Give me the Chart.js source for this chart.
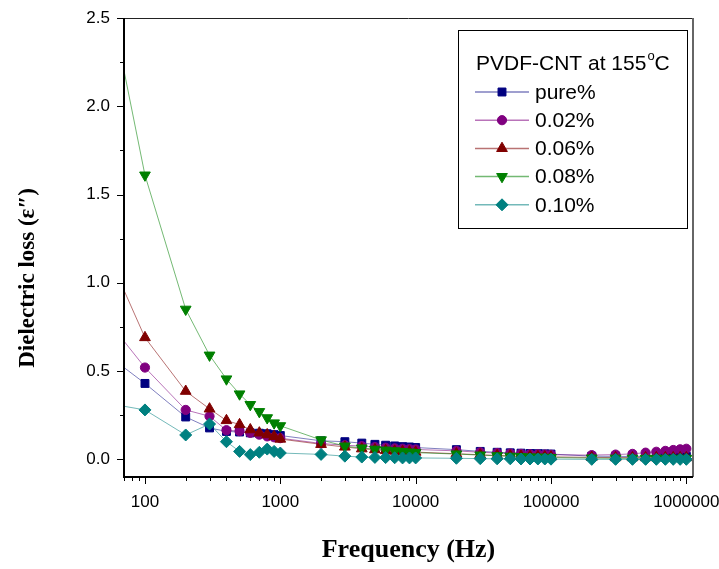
<!DOCTYPE html>
<html lang="en">
<head>
    <meta charset="UTF-8">
    <title>Dielectric loss vs frequency</title>
    <script src="https://cdn.jsdelivr.net/npm/chart.js"></script>
    <style>
        html, body { margin: 0; padding: 0; background: #fff; }
        #wrap { position: relative; width: 719px; height: 569px; }
    </style>
</head>
<body>
    <div id="wrap">
        <canvas id="lossChart"></canvas>
    </div>

    <script>
        // frequencies (Hz); the 50 Hz point lies left of the axis and only shows as the line entering the plot
        const frequencies = [50,
            100, 200, 300, 400, 500, 600, 700, 800, 900, 1000,
            2000, 3000, 4000, 5000, 6000, 7000, 8000, 9000, 10000,
            20000, 30000, 40000, 50000, 60000, 70000, 80000, 90000, 100000,
            200000, 300000, 400000, 500000, 600000, 700000, 800000, 900000, 1000000];

        const seriesNames = ['pure%', '0.02%', '0.06%', '0.08%', '0.10%'];

        const pure = [0.605,
            0.43, 0.24, 0.178, 0.158, 0.155, 0.15, 0.148, 0.145, 0.14, 0.135,
            0.105, 0.1, 0.092, 0.085, 0.08, 0.076, 0.072, 0.07, 0.067,
            0.055, 0.045, 0.04, 0.037, 0.035, 0.033, 0.032, 0.031, 0.03,
            0.018, 0.017, 0.016, 0.016, 0.016, 0.016, 0.016, 0.017, 0.017];
        const cnt002 = [0.81,
            0.52, 0.28, 0.244, 0.165, 0.16, 0.15, 0.14, 0.13, 0.125, 0.12,
            0.09, 0.08, 0.075, 0.07, 0.066, 0.062, 0.06, 0.058, 0.056,
            0.048, 0.04, 0.036, 0.033, 0.031, 0.029, 0.028, 0.027, 0.026,
            0.024, 0.027, 0.031, 0.038, 0.043, 0.048, 0.053, 0.057, 0.06];
        const cnt006 = [1.21,
            0.69, 0.386, 0.286, 0.22, 0.197, 0.168, 0.15, 0.14, 0.13, 0.115,
            0.085, 0.07, 0.06, 0.055, 0.05, 0.047, 0.045, 0.043, 0.041,
            0.032, 0.026, 0.022, 0.02, 0.018, 0.017, 0.016, 0.015, 0.014,
            0.011, 0.01, 0.01, 0.01, 0.01, 0.01, 0.01, 0.01, 0.01];
        const cnt008 = [2.76,
            1.61, 0.85, 0.59, 0.455, 0.37, 0.31, 0.27, 0.235, 0.206, 0.19,
            0.11, 0.075, 0.064, 0.057, 0.052, 0.048, 0.044, 0.041, 0.038,
            0.03, 0.024, 0.02, 0.017, 0.015, 0.013, 0.012, 0.011, 0.01,
            0.007, 0.006, 0.006, 0.005, 0.005, 0.005, 0.005, 0.005, 0.005];
        const cnt010 = [0.32,
            0.28, 0.138, 0.2, 0.1, 0.045, 0.027, 0.04, 0.058, 0.045, 0.036,
            0.028, 0.018, 0.013, 0.011, 0.01, 0.009, 0.008, 0.008, 0.008,
            0.006, 0.004, 0.003, 0.003, 0.002, 0.002, 0.002, 0.002, 0.001,
            0, 0, 0, 0, 0, 0, 0, 0, 0];

        // axis ticks and labels
        const xMajor = [100, 1000, 10000, 100000, 1000000];
        const xTickLabels = ['100', '1000', '10000', '100000', '1000000'];
        const yMajor = [0, 0.5, 1.0, 1.5, 2.0, 2.5];
        const yTickLabels = ['0.0', '0.5', '1.0', '1.5', '2.0', '2.5'];
        const yMinor = [0.25, 0.75, 1.25, 1.75, 2.25];

        const X_MIN = 70, X_MAX = 1.12e6;
        const xMinor = [];
        [10, 100, 1000, 10000, 100000].forEach(d => {
            for (let m = 2; m <= 9; m++) {
                const v = d * m;
                if (v >= X_MIN && v <= X_MAX) xMinor.push(v);
            }
        });

        const styles = [
            { marker: '#000080', line: 'rgba(0,0,128,0.5)',   pointStyle: 'rect',     rotation: 0,   radius: 5.6 },
            { marker: '#800080', line: 'rgba(128,0,128,0.55)', pointStyle: 'circle',   rotation: 0,   radius: 4.6 },
            { marker: '#800000', line: 'rgba(128,0,0,0.55)',   pointStyle: 'triangle', rotation: 0,   radius: 6.2 },
            { marker: '#008000', line: 'rgba(0,128,0,0.55)',   pointStyle: 'triangle', rotation: 180, radius: 6.2 },
            { marker: '#008080', line: 'rgba(0,128,128,0.55)', pointStyle: 'rectRot',  rotation: 0,   radius: 6.0 }
        ];

        const allSeries = [pure, cnt002, cnt006, cnt008, cnt010];

        const datasets = allSeries.map((vals, i) => ({
            label: seriesNames[i],
            data: frequencies.map((f, k) => ({ x: f, y: vals[k] })),
            borderColor: styles[i].line,
            borderWidth: 1,
            backgroundColor: styles[i].marker,
            pointBackgroundColor: styles[i].marker,
            pointBorderColor: styles[i].marker,
            pointBorderWidth: 1,
            pointStyle: styles[i].pointStyle,
            pointRotation: styles[i].rotation,
            pointRadius: styles[i].radius,
            tension: 0,
            order: allSeries.length - i
        }));

        // axis frame and tick marks
        const framePlugin = {
            id: 'frame',
            afterDraw(chart) {
                const { ctx, chartArea: a, scales: { x, y } } = chart;
                ctx.save();
                ctx.strokeStyle = '#000';
                ctx.lineWidth = 1;
                ctx.beginPath();
                yMajor.forEach(v => {
                    const p = Math.round(y.getPixelForValue(v)) + 0.5;
                    ctx.moveTo(a.left - 7, p); ctx.lineTo(a.left, p);
                });
                yMinor.forEach(v => {
                    const p = Math.round(y.getPixelForValue(v)) + 0.5;
                    ctx.moveTo(a.left - 4, p); ctx.lineTo(a.left, p);
                });
                xMajor.forEach(v => {
                    const p = Math.round(x.getPixelForValue(v)) + 0.5;
                    ctx.moveTo(p, a.bottom); ctx.lineTo(p, a.bottom + 7);
                });
                xMinor.forEach(v => {
                    const p = Math.round(x.getPixelForValue(v)) + 0.5;
                    ctx.moveTo(p, a.bottom); ctx.lineTo(p, a.bottom + 4);
                });
                ctx.stroke();

                // top and right (thin)
                ctx.beginPath();
                ctx.lineWidth = 1;
                ctx.strokeStyle = '#222';
                ctx.moveTo(a.left, a.top + 0.5); ctx.lineTo(a.right, a.top + 0.5);
                ctx.stroke();
                ctx.beginPath();
                ctx.lineWidth = 2;
                ctx.strokeStyle = '#666';
                ctx.moveTo(a.right, a.top); ctx.lineTo(a.right, a.bottom);
                ctx.stroke();

                // left and bottom (thick)
                ctx.beginPath();
                ctx.lineWidth = 2;
                ctx.strokeStyle = '#000';
                ctx.moveTo(a.left, a.top); ctx.lineTo(a.left, a.bottom);
                ctx.lineTo(a.right, a.bottom);
                ctx.stroke();

                // y axis title (sits a little below the axis centre in the original)
                ctx.save();
                ctx.translate(28, 278);
                ctx.rotate(-Math.PI / 2);
                ctx.fillStyle = '#000';
                ctx.font = 'bold 23px "Liberation Serif", "Times New Roman", serif';
                ctx.textAlign = 'center';
                ctx.textBaseline = 'middle';
                ctx.fillText('Dielectric loss (\u03b5\u2033)', 0, 0);
                ctx.restore();

                ctx.restore();
            }
        };

        // legend box inside the plot
        const legendPlugin = {
            id: 'boxLegend',
            afterDraw(chart) {
                const ctx = chart.ctx;
                const box = { x: 458, y: 30, w: 229, h: 198 };
                ctx.save();
                ctx.fillStyle = '#fff';
                ctx.fillRect(box.x, box.y, box.w, box.h);
                ctx.strokeStyle = '#000';
                ctx.lineWidth = 1;
                ctx.strokeRect(box.x + 0.5, box.y + 0.5, box.w, box.h);

                ctx.fillStyle = '#000';
                ctx.textBaseline = 'alphabetic';
                ctx.textAlign = 'left';
                ctx.font = '21px "Liberation Sans", Arial, sans-serif';
                let tx = 476;
                const ty = 70;
                const head = 'PVDF-CNT at 155';
                ctx.fillText(head, tx, ty);
                tx += ctx.measureText(head).width;
                ctx.font = '13px "Liberation Sans", Arial, sans-serif';
                ctx.fillText('o', tx + 1, ty - 10);
                tx += ctx.measureText('o').width + 1;
                ctx.font = '21px "Liberation Sans", Arial, sans-serif';
                ctx.fillText('C', tx, ty);

                ctx.textBaseline = 'middle';
                chart.data.datasets.forEach((ds, i) => {
                    const cy = 92 + i * 28.2;
                    ctx.beginPath();
                    ctx.strokeStyle = ds.borderColor;
                    ctx.lineWidth = 1.5;
                    ctx.moveTo(475, cy); ctx.lineTo(529, cy);
                    ctx.stroke();
                    ctx.fillStyle = ds.pointBackgroundColor;
                    ctx.strokeStyle = ds.pointBorderColor;
                    ctx.lineWidth = 1;
                    Chart.helpers.drawPoint(ctx, {
                        pointStyle: ds.pointStyle,
                        rotation: ds.pointRotation,
                        radius: ds.pointRadius,
                        borderWidth: 1
                    }, 502, cy);
                    ctx.fillStyle = '#000';
                    ctx.fillText(ds.label, 535, cy + 1);
                });
                ctx.restore();
            }
        };

        const tickFont = { family: '"Liberation Sans", Arial, sans-serif', size: 17 };

        new Chart(document.getElementById('lossChart'), {
            type: 'line',
            data: { datasets: datasets },
            options: {
                responsive: true,
                maintainAspectRatio: false,
                animation: false,
                layout: { padding: { top: 18, right: 26, left: 0, bottom: 0 } },
                plugins: {
                    legend: { display: false },
                    tooltip: { enabled: false }
                },
                scales: {
                    x: {
                        type: 'logarithmic',
                        min: X_MIN,
                        max: X_MAX,
                        grid: { display: false, drawTicks: false },
                        border: { display: false },
                        ticks: {
                            autoSkip: false,
                            maxRotation: 0,
                            padding: 15,
                            color: '#000',
                            font: tickFont,
                            callback: v => {
                                const k = xMajor.indexOf(v);
                                return k >= 0 ? xTickLabels[k] : '';
                            }
                        },
                        title: {
                            display: true,
                            text: 'Frequency (Hz)',
                            color: '#000',
                            font: { family: '"Liberation Serif", "Times New Roman", serif', size: 26, weight: 'bold' },
                            padding: { top: 0, bottom: 3 }
                        },
                        afterBuildTicks: s => {
                            s.ticks = xMajor.concat(xMinor).sort((p, q) => p - q).map(v => ({ value: v }));
                        },
                        afterFit: s => {
                            s.height = 92;
                            s.paddingLeft = 0;
                            s.paddingRight = 0;
                        }
                    },
                    y: {
                        min: -0.1,
                        max: 2.5,
                        grid: { display: false, drawTicks: false },
                        border: { display: false },
                        ticks: {
                            autoSkip: false,
                            padding: 14,
                            color: '#000',
                            font: tickFont,
                            callback: v => {
                                const k = yMajor.indexOf(v);
                                return k >= 0 ? yTickLabels[k] : '';
                            }
                        },
                        afterBuildTicks: s => {
                            s.ticks = yMajor.concat(yMinor).sort((p, q) => p - q).map(v => ({ value: v }));
                        },
                        afterFit: s => {
                            s.width = 124;
                            s.paddingTop = 0;
                            s.paddingBottom = 0;
                        }
                    }
                }
            },
            plugins: [framePlugin, legendPlugin]
        });
    </script>
</body>
</html>
